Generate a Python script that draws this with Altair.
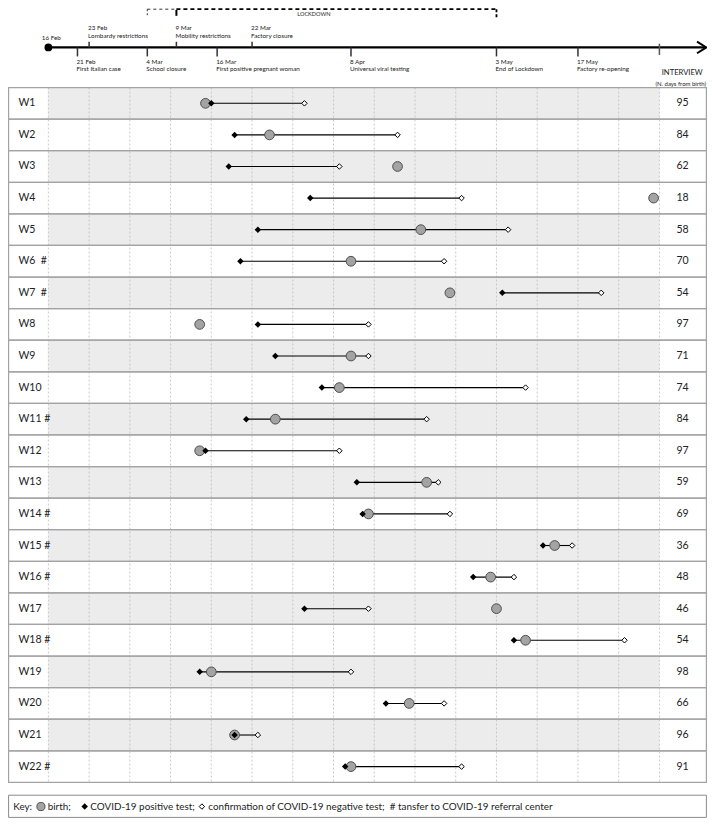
import altair as alt
import pandas as pd

# ---------------- data ----------------
rows = [f"W{i}" for i in range(1, 23)]
transfer = [False, False, False, False, False, True, True, False, False, False, True,
            False, False, True, True, True, False, True, False, False, False, True]
birth = ["2020-03-14", "2020-03-25", "2020-04-16", "2020-05-30", "2020-04-20", "2020-04-08",
         "2020-04-25", "2020-03-13", "2020-04-08", "2020-04-06", "2020-03-26", "2020-03-13",
         "2020-04-21", "2020-04-11", "2020-05-13", "2020-05-02", "2020-05-03", "2020-05-08",
         "2020-03-15", "2020-04-18", "2020-03-19", "2020-04-08"]
positive = ["2020-03-15", "2020-03-19", "2020-03-18", "2020-04-01", "2020-03-23", "2020-03-20",
            "2020-05-04", "2020-03-23", "2020-03-26", "2020-04-03", "2020-03-21", "2020-03-14",
            "2020-04-09", "2020-04-10", "2020-05-11", "2020-04-29", "2020-03-31", "2020-05-06",
            "2020-03-13", "2020-04-14", "2020-03-19", "2020-04-07"]
negative = ["2020-03-31", "2020-04-16", "2020-04-06", "2020-04-27", "2020-05-05", "2020-04-24",
            "2020-05-21", "2020-04-11", "2020-04-11", "2020-05-08", "2020-04-21", "2020-04-06",
            "2020-04-23", "2020-04-25", "2020-05-16", "2020-05-06", "2020-04-11", "2020-05-25",
            "2020-04-08", "2020-04-24", "2020-03-23", "2020-04-27"]
interview_days = [95, 84, 62, 18, 58, 70, 54, 97, 71, 74, 84, 97, 59, 69, 36, 48, 46, 54,
                  98, 66, 96, 91]

event_dates = ["2020-02-21", "2020-02-23", "2020-03-04", "2020-03-09", "2020-03-16",
               "2020-03-22", "2020-04-08", "2020-05-03", "2020-05-17"]
event_labels = ["21 Feb", "23 Feb", "4 Mar", "9 Mar", "16 Mar", "22 Mar", "8 Apr", "3 May", "17 May"]
event_notes = ["First Italian case", "Lombardy restrictions", "School closure",
               "Mobility restrictions", "First positive pregnant woman", "Factory closure",
               "Universal viral testing", "End of Lockdown", "Factory re-opening"]
event_side = ["below", "above", "below", "above", "below", "above", "below", "below", "below"]

TIMELINE_START = "2020-02-16"
TIMELINE_END = "2020-05-31"
PARTIAL_LOCKDOWN = "2020-03-04"
LOCKDOWN_START = "2020-03-09"
LOCKDOWN_END = "2020-05-03"

# ---------------- layout ----------------
START = pd.Timestamp(TIMELINE_START)


def day(s):
    return (pd.Timestamp(s) - START).days


W, H = 699, 810
REF_L, REF_R, REF_T, REF_B = 2.0, 706.7, 2.0, 830.0
KX = W / (REF_R - REF_L)
KY = H / (REF_B - REF_T)


def px(x):
    return (x - REF_L) * KX


def py(y):
    return (y - REF_T) * KY


DAY0_REF, REF_PER_DAY = 42.7, 5.867
X_DOMAIN = [(REF_L - DAY0_REF) / REF_PER_DAY, (REF_R - DAY0_REF) / REF_PER_DAY]
TOP, BOT = py(83.3), py(793.6)
FONT = "Lato"

xs = alt.Scale(domain=X_DOMAIN, nice=False, zero=False)
ys = alt.Scale(domain=rows, range=[TOP, BOT], paddingInner=0, paddingOuter=0)


def X(f):
    return alt.X(f, type="quantitative", scale=xs, axis=None)


Y = alt.Y("row:N", scale=ys, axis=None)

labels = [(r + ("\u00a0\u00a0#" if len(r) == 2 else "\u00a0#")) if t else r
          for r, t in zip(rows, transfer)]
df = pd.DataFrame({
    "row": rows,
    "label": labels,
    "birth": [day(d) for d in birth],
    "pos": [day(d) for d in positive],
    "neg": [day(d) for d in negative],
    "interview": [str(v) for v in interview_days],
    "shade": [i % 2 == 0 for i in range(len(rows))],
})
shade_df = df[df["shade"]].assign(x0=0, x1=day(TIMELINE_END))
grid_df = pd.DataFrame({"d": list(range(0, day(TIMELINE_END) + 1, 7))})
ev = pd.DataFrame({"d": [day(d) for d in event_dates], "date": event_labels,
                   "note": event_notes, "side": event_side})
above = ev[ev["side"] == "above"]
below = ev[ev["side"] == "below"]
one = pd.DataFrame({"d": [0]})
end_df = pd.DataFrame({"d": [day(TIMELINE_END)]})
lock_df = pd.DataFrame({"a": [day(PARTIAL_LOCKDOWN)], "b": [day(LOCKDOWN_START)],
                        "c": [day(LOCKDOWN_END)],
                        "m": [(day(PARTIAL_LOCKDOWN) + day(LOCKDOWN_END)) / 2]})

LINE_Y = py(42.3)

layers = []
# table shading
layers.append(alt.Chart(shade_df).mark_rect(color="#ececec").encode(x=X("x0"), x2="x1", y=Y))
# weekly dashed grid
layers.append(alt.Chart(grid_df).mark_rule(color="#bdbdbd", strokeDash=[2, 2], strokeWidth=0.8)
              .encode(x=X("d"), y=alt.value(TOP), y2=alt.value(BOT)))
# row borders
layers.append(alt.Chart(df).mark_rect(fill="transparent", stroke="#a3a3a3", strokeWidth=1.2)
              .encode(x=alt.value(0.6), x2=alt.value(W - 0.6), y=Y))

# ---- timeline ----
layers.append(alt.Chart(one).mark_rule(color="black", strokeWidth=2.2)
              .encode(x=X("d"), x2=alt.value(px(705)), y=alt.value(LINE_Y)))
layers.append(alt.Chart(one).mark_point(shape="M-1.6,-1L0,0L-1.6,1", filled=False, color="black",
                                        strokeWidth=2, size=135, opacity=1)
              .encode(x=alt.value(px(706)), y=alt.value(LINE_Y)))
layers.append(alt.Chart(one).mark_point(shape="circle", filled=True, color="black", size=60, opacity=1)
              .encode(x=X("d"), y=alt.value(LINE_Y)))
layers.append(alt.Chart(one).mark_text(text="16 Feb", font=FONT, fontSize=6.3, dx=3, color="#222")
              .encode(x=X("d"), y=alt.value(py(33))))
layers.append(alt.Chart(above).mark_rule(color="#333", strokeWidth=1.5)
              .encode(x=X("d"), y=alt.value(py(36.5)), y2=alt.value(LINE_Y)))
layers.append(alt.Chart(below).mark_rule(color="#333", strokeWidth=1.5)
              .encode(x=X("d"), y=alt.value(LINE_Y), y2=alt.value(py(51.5))))
layers.append(alt.Chart(end_df).mark_rule(color="#555", strokeWidth=1.5)
              .encode(x=X("d"), y=alt.value(py(38.5)), y2=alt.value(py(50))))
for data, y1, y2 in [(above, 22.7, 31.0), (below, 56.7, 64.3)]:
    layers.append(alt.Chart(data).mark_text(align="left", dx=-1, font=FONT, fontSize=6.3, color="#222")
                  .encode(x=X("d"), y=alt.value(py(y1)), text="date"))
    layers.append(alt.Chart(data).mark_text(align="left", dx=-1, font=FONT, fontSize=6.3, color="#222")
                  .encode(x=X("d"), y=alt.value(py(y2)), text="note"))

# lockdown bracket
LY = 1.2
layers.append(alt.Chart(lock_df).mark_rule(color="#333", strokeWidth=1, strokeDash=[3, 3])
              .encode(x=X("a"), x2="b", y=alt.value(LY)))
layers.append(alt.Chart(lock_df).mark_rule(color="black", strokeWidth=1.8, strokeDash=[4, 3])
              .encode(x=X("b"), x2="c", y=alt.value(LY)))
layers.append(alt.Chart(lock_df).mark_rule(color="#333", strokeWidth=1, strokeDash=[2, 2])
              .encode(x=X("a"), y=alt.value(LY), y2=alt.value(py(10))))
layers.append(alt.Chart(lock_df).mark_rule(color="black", strokeWidth=2)
              .encode(x=X("b"), y=alt.value(py(4)), y2=alt.value(py(10))))
layers.append(alt.Chart(lock_df).mark_rule(color="black", strokeWidth=1.8, strokeDash=[3, 2])
              .encode(x=X("c"), y=alt.value(LY), y2=alt.value(py(12))))
layers.append(alt.Chart(lock_df).mark_text(text="LOCKDOWN", font=FONT, fontSize=5.6, dx=-8, color="#222")
              .encode(x=X("m"), y=alt.value(py(7.7))))

# column header
layers.append(alt.Chart(one).mark_text(text="INTERVIEW", font=FONT, fontSize=7.6, color="#222")
              .encode(x=alt.value(px(681.7)), y=alt.value(py(68))))
layers.append(alt.Chart(one).mark_text(text="(N. days from birth)", font=FONT, fontSize=6, align="right",
                                       color="#222")
              .encode(x=alt.value(W - 1), y=alt.value(py(79.3))))

# ---- patient data ----
layers.append(alt.Chart(df).mark_rule(color="black", strokeWidth=1.1)
              .encode(x=X("pos"), x2="neg", y=Y))
layers.append(alt.Chart(df).mark_point(shape="circle", filled=True, fill="#a3a3a3", stroke="#4f4f4f",
                                       strokeWidth=1, size=95, opacity=1)
              .encode(x=X("birth"), y=Y))
layers.append(alt.Chart(df).mark_point(shape="diamond", filled=True, color="black", size=42, opacity=1)
              .encode(x=X("pos"), y=Y))
layers.append(alt.Chart(df).mark_point(shape="diamond", filled=True, fill="white", stroke="black",
                                       strokeWidth=1, size=30, opacity=1)
              .encode(x=X("neg"), y=Y))
layers.append(alt.Chart(df).mark_text(align="left", font=FONT, fontSize=10.5, color="#222")
              .encode(x=alt.value(px(12.5)), y=Y, text="label"))
layers.append(alt.Chart(df).mark_text(font=FONT, fontSize=10.5, color="#222")
              .encode(x=alt.value(px(682)), y=Y, text="interview"))

# ---- key ----
KEY_Y = py(818.3)
layers.append(alt.Chart(one).mark_rect(fill="transparent", stroke="#8a8a8a", strokeWidth=1)
              .encode(x=alt.value(0.6), x2=alt.value(W - 0.6), y=alt.value(py(806.7)),
                      y2=alt.value(H - 0.6)))
for txt, xr in [("Key:", 7.3), ("birth;", 42.0), ("COVID-19 positive test;", 85),
                ("confirmation of COVID-19 negative test;  # tansfer to COVID-19 referral center", 204.0)]:
    layers.append(alt.Chart(one).mark_text(text=txt.replace("  ", "\u00a0 "), align="left", font=FONT,
                                           fontSize=9.9, color="#222")
                  .encode(x=alt.value(px(xr)), y=alt.value(KEY_Y)))
layers.append(alt.Chart(one).mark_point(shape="circle", filled=True, fill="#a3a3a3", stroke="#4f4f4f",
                                        strokeWidth=1, size=66, opacity=1)
              .encode(x=alt.value(px(35.2)), y=alt.value(KEY_Y)))
layers.append(alt.Chart(one).mark_point(shape="diamond", filled=True, color="black", size=42, opacity=1)
              .encode(x=alt.value(px(79.3)), y=alt.value(KEY_Y)))
layers.append(alt.Chart(one).mark_point(shape="diamond", filled=True, fill="white", stroke="black",
                                        strokeWidth=1, size=30, opacity=1)
              .encode(x=alt.value(px(197.5)), y=alt.value(KEY_Y)))

chart = alt.layer(*layers).properties(
    width=W, height=H, padding=0, autosize=alt.AutoSizeParams(type="none"), background="white"
).configure_view(stroke=None)

chart.save("out.html", embed_options={"renderer": "svg", "actions": False})
